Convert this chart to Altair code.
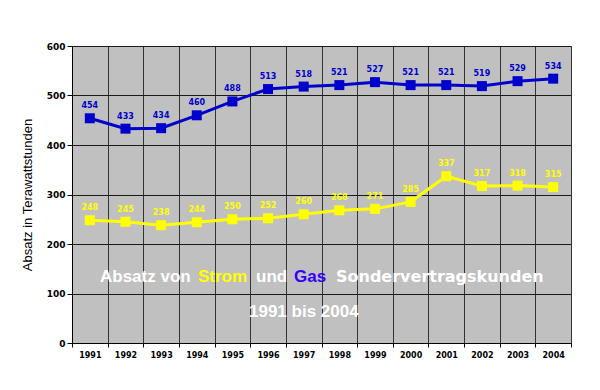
import altair as alt
import pandas as pd

years = ["1991", "1992", "1993", "1994", "1995", "1996", "1997",
         "1998", "1999", "2000", "2001", "2002", "2003", "2004"]
gas = [454, 433, 434, 460, 488, 513, 518, 521, 527, 521, 521, 519, 529, 534]
strom = [248, 245, 238, 244, 250, 252, 260, 268, 271, 285, 337, 317, 318, 315]
series_names = ["Gas", "Strom"]
series_colors = ["#0000CC", "#FFFF00"]

title_parts = ["Absatz von", "Strom", "und", "Gas", "Sondervertragskunden"]
title_colors = ["#FFFFFF", "#FFFF00", "#FFFFFF", "#3300FF", "#FFFFFF"]
subtitle = "1991 bis 2004"
y_title = "Absatz in Terawattstunden"

df = pd.DataFrame({
    "Jahr": years * 2,
    "Wert": gas + strom,
    "Serie": ["Gas"] * len(years) + ["Strom"] * len(years),
})

x_enc = alt.X(
    "Jahr:O",
    scale=alt.Scale(type="band", paddingInner=0, paddingOuter=0),
    axis=alt.Axis(
        title=None, labelAngle=0, grid=True, tickBand="extent",
        gridColor="#333333", gridOpacity=1, domainColor="#000000",
        tickColor="#000000", tickSize=4, labelFont="DejaVu Sans",
        labelFontWeight="bold", labelFontSize=8, labelColor="#000000",
        labelPadding=4,
    ),
)
y_enc = alt.Y(
    "Wert:Q",
    scale=alt.Scale(domain=[0, 600]),
    axis=alt.Axis(
        title=y_title, values=[0, 100, 200, 300, 400, 500, 600],
        grid=True, gridColor="#1a1a1a", gridOpacity=1,
        domainColor="#000000", tickColor="#000000", tickSize=5,
        labelFont="DejaVu Sans", labelFontWeight="bold", labelFontSize=9,
        labelColor="#000000", labelPadding=2,
        titleFont="Liberation Sans", titleFontWeight="normal",
        titleFontSize=13, titleColor="#000000", titlePadding=12,
    ),
)
color_enc = alt.Color(
    "Serie:N",
    scale=alt.Scale(domain=series_names, range=series_colors),
    legend=None,
)

base = alt.Chart(df).encode(x=x_enc, y=y_enc, color=color_enc)
lines = base.mark_line(strokeWidth=3)
points = base.mark_square(size=100, opacity=1, filled=True)
labels = base.mark_text(
    dy=-12, font="DejaVu Sans", fontWeight="bold", fontSize=8
).encode(text="Wert:Q")

title_x = [28, 126, 184, 222, 264]
title_fonts = ["Liberation Sans"] * 4 + ["DejaVu Sans"]
title_sizes = [17, 17, 17, 17, 16]
title_layers = []
for txt, col, px, fnt, fs in zip(title_parts, title_colors, title_x,
                                 title_fonts, title_sizes):
    title_layers.append(
        alt.Chart(pd.DataFrame({"t": [txt]})).mark_text(
            align="left", baseline="middle", font=fnt,
            fontWeight="bold", fontSize=fs, color=col,
        ).encode(text="t:N", x=alt.value(px), y=alt.value(231))
    )
sub_layer = alt.Chart(pd.DataFrame({"t": [subtitle]})).mark_text(
    align="left", baseline="middle", font="Liberation Sans",
    fontWeight="bold", fontSize=17, color="#FFFFFF",
).encode(text="t:N", x=alt.value(177), y=alt.value(266))

chart = alt.layer(lines, points, labels, *title_layers, sub_layer).properties(
    width=499, height=297,
    autosize=alt.AutoSizeParams(type="none"),
    padding={"left": 64, "top": 38, "right": 10, "bottom": 30},
    background="#FFFFFF",
).configure_view(fill="#C0C0C0", stroke="#808080", strokeWidth=1)

chart.save("out.html", embed_options={"renderer": "svg", "actions": False})
